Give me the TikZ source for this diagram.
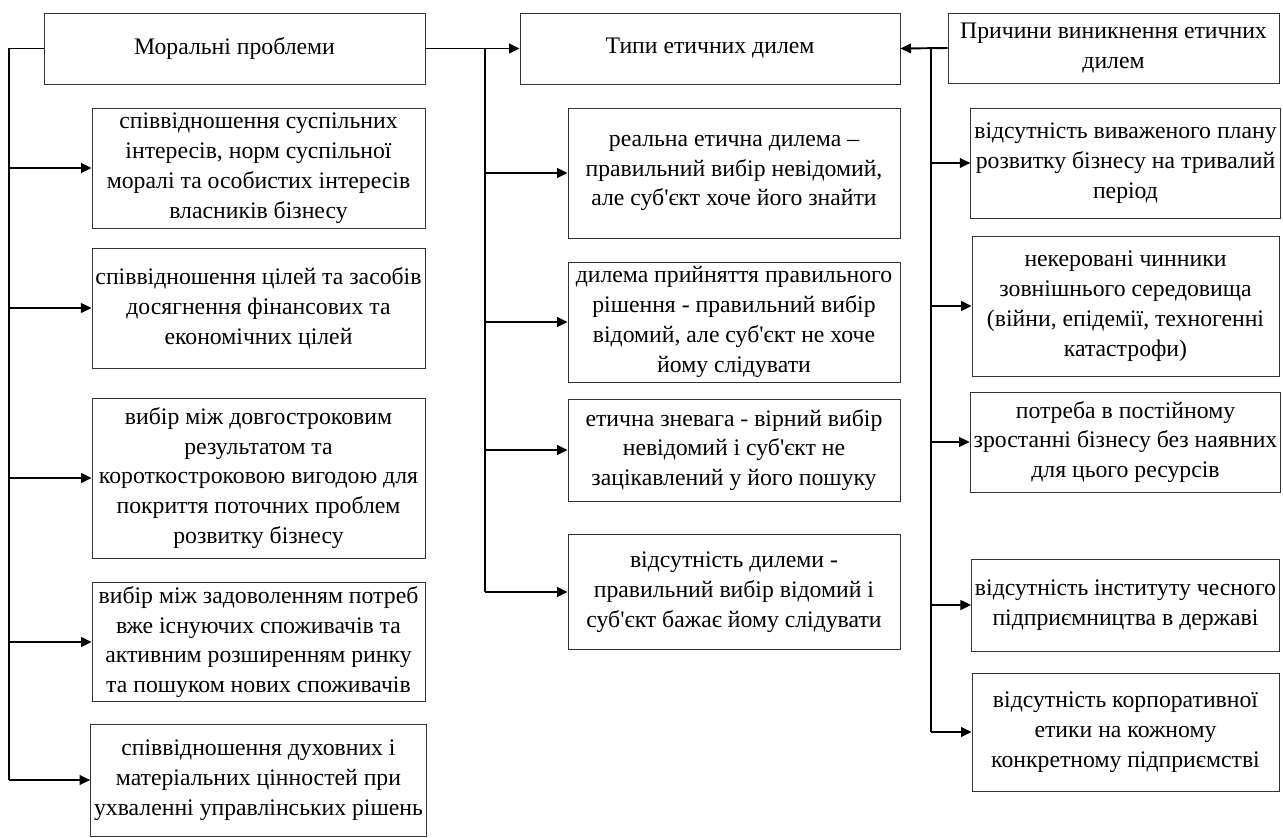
\documentclass[tikz,border=0pt]{standalone}
\usepackage{fontspec}
\setmainfont{Liberation Serif}[Ligatures=TeXOff]
\usetikzlibrary{arrows.meta}

\begin{document}
\begin{tikzpicture}[x=0.2mm,y=-0.2mm,
    box/.style={draw=black!80, line width=0.5pt, align=center, inner sep=2pt,
      font=\fontsize{13.5}{17}\selectfont},
    head/.style={box, minimum height=14.2mm},
    lbox/.style={box, minimum width=66.6mm},
    mbox/.style={box, minimum width=66.4mm},
    rbox/.style={box, minimum width=61.4mm},
    link/.style={line width=1.1pt},
    arr/.style={link, -{Triangle[length=6pt,width=5.5pt]}}]
    \useasboundingbox (0,0) rectangle (1283,838);

    \node[head, minimum width=76.2mm] (moral) at (234.5,48.5) {Моральні проблеми};
    \node[head, minimum width=76mm] (types) at (710,48.5) {Типи етичних дилем};
    \node[head, minimum width=66.2mm, minimum height=14mm] (cause) at (1113.5,48)
      {Причини виникнення етичних\\дилем};

    \node[lbox, minimum height=24mm] (moral1) at (258.5,168)
      {співвідношення суспільних\\інтересів, норм суспільної\\моралі та особистих інтересів\\власників бізнесу};
    \node[lbox, minimum height=24mm] (moral2) at (258.5,308)
      {співвідношення цілей та засобів\\досягнення фінансових та\\економічних цілей};
    \node[lbox, minimum height=32mm] (moral3) at (258.5,478)
      {вибір між довгостроковим\\результатом та\\короткостроковою вигодою для\\покриття поточних проблем\\розвитку бізнесу};
    \node[lbox, minimum height=23.6mm] (moral4) at (258.5,642)
      {вибір між задоволенням потреб\\вже існуючих споживачів та\\активним розширенням ринку\\та пошуком нових споживачів};
    \node[lbox, minimum height=22.4mm] (moral5) at (258.5,780)
      {співвідношення духовних і\\матеріальних цінностей при\\ухваленні управлінських рішень};

    \node[mbox, minimum height=26mm] (types1) at (734,173)
      {реальна етична дилема –\\правильний вибір невідомий,\\але суб'єкт хоче його знайти};
    \node[mbox, minimum height=24mm] (types2) at (734,322)
      {дилема прийняття правильного\\рішення - правильний вибір\\відомий, але суб'єкт не хоче\\йому слідувати};
    \node[mbox, minimum height=20.4mm] (types3) at (734,450)
      {етична зневага - вірний вибір\\невідомий і суб'єкт не\\зацікавлений у його пошуку};
    \node[mbox, minimum height=23mm] (types4) at (734,592)
      {відсутність дилеми -\\правильний вибір відомий і\\суб'єкт бажає йому слідувати};

    \node[rbox, minimum height=22mm] (cause1) at (1125.5,163)
      {відсутність виваженого плану\\розвитку бізнесу на тривалий\\період};
    \node[rbox, minimum height=28mm] (cause2) at (1125.5,306)
      {некеровані чинники\\зовнішнього середовища\\(війни, епідемії, техногенні\\катастрофи)};
    \node[rbox, minimum height=20mm] (cause3) at (1125.5,442)
      {потреба в постійному\\зростанні бізнесу без наявних\\для цього ресурсів};
    \node[rbox, minimum height=18.4mm] (cause4) at (1125.5,605)
      {відсутність інституту чесного\\підприємництва в державі};
    \node[rbox, minimum height=23.6mm] (cause5) at (1125.5,732)
      {відсутність корпоративної\\етики на кожному\\конкретному підприємстві};

    \coordinate (ltrunk) at (9,48.5);
    \coordinate (mtrunk) at (485,48.5);
    \coordinate (rtrunk) at (931,48);

    \draw[arr] (moral.east) -- (types.west);
    \draw[arr] (cause.west) -- (types.east);
    \draw[link] (moral.west) -- (ltrunk) -- (ltrunk |- moral5.west);
    \draw[link] (mtrunk) -- (mtrunk |- types4.west);
    \draw[link] (rtrunk) -- (rtrunk |- cause5.west);
    \foreach \n in {1,...,5}
      \draw[arr] (ltrunk |- moral\n.west) -- (moral\n.west);
    \foreach \n in {1,...,4}
      \draw[arr] (mtrunk |- types\n.west) -- (types\n.west);
    \foreach \n in {1,...,5}
      \draw[arr] (rtrunk |- cause\n.west) -- (cause\n.west);
\end{tikzpicture}
\end{document}
